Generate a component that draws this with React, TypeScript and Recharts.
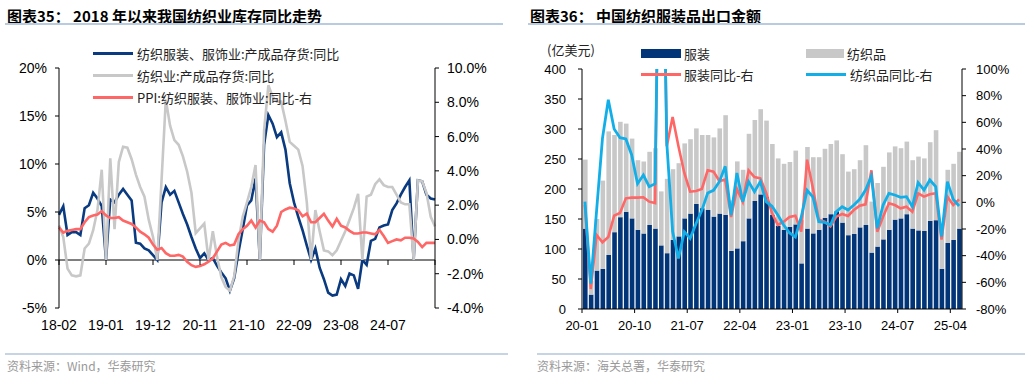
import React from "react";
import {
  ComposedChart,
  LineChart,
  Line,
  Bar,
  XAxis,
  YAxis,
  ReferenceLine,
} from "recharts";

const NUM_FONT = "'Liberation Sans', Arial, 'Noto Sans CJK SC', sans-serif";
const CJK_FONT = "'Noto Sans CJK SC', 'Liberation Sans', sans-serif";

function monthLabels(startY: number, startM: number, n: number) {
  const out: string[] = [];
  for (let i = 0; i < n; i++) {
    const t = startM - 1 + i;
    const y = startY + Math.floor(t / 12);
    const m = (t % 12) + 1;
    out.push(`${String(y).slice(2)}-${String(m).padStart(2, "0")}`);
  }
  return out;
}

// ---------- 图表35: 2018-02 .. 2025-06, January not published (shown as 0)
const invMonths = monthLabels(2018, 2, 89);

// 纺织服装、服饰业:产成品存货:同比 (%)
const apparelInv = [
  4.7, 5.6, 2.6, 2.9, 2.9, 2.6, 5.4, 5.7, 7.0, 6.4, 5.6,
  0, 6.3, 6.0, 6.8, 7.4, 6.8, 6.2, 1.8, 1.7, 1.2, 1.0,
  0.5, 0, 6.0, 7.6, 6.8, 7.2, 6.0, 4.8, 3.7, 2.4, 1.2,
  0.2, 0.7, 0, 0.2, -0.6, -1.3, -1.9, -3.2, -1.9, 0.8, 3.2,
  5.7, 6.2, 8.5, 0, 12.0, 15.1, 14.2, 12.8, 13.3, 11.5, 8.0,
  6.0, 4.5, 3.1, 1.5, 0, 1.2, -0.8, -2.0, -3.4, -3.7, -3.6,
  -2.0, -2.7, -1.4, -1.6, -3.0, 0, -0.5, 2.0, 2.2, 3.4, 3.6,
  3.7, 5.2, 5.9, 6.8, 7.6, 8.3, 0, 8.3, 8.2, 6.8, 6.4, 6.3,
];

// 纺织业:产成品存货:同比 (%)
const textileInv = [
  3.6, 2.4, -0.9, -1.6, -1.7, -1.6, 1.2, 1.7, 3.1, 5.2, 9.4,
  0, 10.6, 3.2, 10.2, 11.8, 11.7, 10.5, 8.9, 7.6, 6.6, 4.2,
  2.4, 0, 8.3, 16.7, 14.0, 12.5, 12.0, 10.8, 9.2, 7.0, 2.8,
  3.3, 3.8, 0, 3.0, 0.3, -1.8, -2.8, -3.2, -1.7, 2.0, 4.5,
  6.0, 7.6, 9.9, 0, 13.5, 18.2, 17.0, 16.5, 16.5, 14.5, 12.3,
  11.9, 11.5, 9.8, 6.0, 0, 5.2, 3.0, 1.0, 0.9, 0.5, 1.0,
  2.0, 3.0, 4.2, 5.4, 6.9, 0, 6.6, 6.8, 7.9, 8.4, 7.8,
  7.6, 7.6, 6.8, 6.0, 5.8, 5.8, 0, 8.3, 8.2, 7.0, 4.5, 3.5,
];

// PPI:纺织服装、服饰业:同比 (%, right axis)
const apparelPpi = [
  0.7, 0.4, 0.5, 0.55, 0.6, 0.6, 1.0, 1.3, 1.4, 1.45, 1.65,
  1.4, 1.25, 1.25, 1.3, 1.1, 1.0, 0.9, 0.7, 0.45, 0.3, 0.1,
  -0.3, -0.6, -0.5, -0.8, -0.95, -0.95, -0.9, -1.0, -1.3, -1.5, -1.6,
  -1.55, -1.45, -1.3, -1.1, -0.7, -0.3, -0.2, -0.35, -0.3, 0.3, 0.6,
  0.8, 1.1, 0.7, 1.1, 1.0, 0.6, 0.45, 0.8, 1.6, 1.75, 1.85,
  1.8, 1.7, 1.35, 1.5, 1.0, 1.0, 1.25, 1.5, 1.1, 0.75, 1.2,
  0.8, 0.7, 0.5, 0.35, 0.35, 0.4, 0.4, 0.35, 0.3, 0.55, 0.2,
  -0.2, -0.1, 0.0, -0.05, 0.1, 0.1, 0.05, -0.15, -0.45, -0.2, -0.2, -0.2,
];

const invLeftTicks = [-5, 0, 5, 10, 15, 20];
const invRightTicks = [-4, -2, 0, 2, 4, 6, 8, 10];

// ---------- 图表36: 2020-01 .. 2025-05
const expMonths = monthLabels(2020, 1, 65);

// 服装 (亿美元)
const apparelExp = [
  134, 24, 64, 67, 90, 128, 153, 162, 151, 132, 126, 140,
  134, 106, 93, 115, 121, 151, 159, 175, 168, 165, 154, 159,
  157, 97, 101, 113, 151, 180, 191, 187, 157, 139, 132, 137,
  141, 76, 134, 126, 132, 152, 158, 163, 144, 123, 125, 136,
  140, 94, 104, 116, 132, 149, 151, 158, 134, 131, 130, 147,
  148, 67, 110, 115, 134,
];

// 纺织品 (亿美元)
const textileExp = [
  115, 23, 86, 147, 206, 162, 159, 147, 133, 116, 120, 122,
  134, 90, 124, 118, 122, 125, 124, 126, 122, 125, 132, 142,
  166, 84, 145, 119, 141, 135, 142, 127, 118, 112, 110, 108,
  123, 72, 136, 127, 121, 115, 117, 118, 114, 106, 108, 112,
  133, 85, 106, 121, 129, 122, 117, 121, 114, 123, 121, 131,
  150, 62, 122, 127, 128,
];

// 服装同比 (%, right axis)
const apparelYoy = [
  -2, -65, -24.5, -30, -26, -10, -8, 3, 3.5, 3.5, 3.8, 0.5,
  -0.5, 340, 42, 64, 42, 22, 8, 8.5, 10, 24, 23, 16,
  17, -11, 10, 0.5, 24, 19, 18, 7, -8, -17, -14.5, -11,
  -10, -22, 32, 10.5, -13, -14.5, -18, -10.75, -8.75, -10.25, -5.75, -2.5,
  -1.5, 24, -22, -10.75, -0.75, -2, -4.5, -3.25, -7, 6.75, 4.25, 6,
  6.75, -28, 4.25, -2, 2.25,
];

// 纺织品同比 (%, right axis)
const textileYoy = [
  0.5, -61, -6, 48, 77, 55, 48.5, 47.5, 35.5, 14, 20.5, 11.75,
  14, 300, 45, -22, -42, -22, -27, -16, -6, 7, 9, 15.5,
  27, -9.5, 22, 0.5, 15.5, 8, 15.5, 0.5, -3, -9.5, -17, -23,
  -26, -11, 9, 4, -14.5, -15, -17, -7, -3.25, -5.75, -2, 2.25,
  9.25, 19.75, -19.5, -2, 6.75, 5.5, 3.75, 4.25, -3.25, 14.75, 9.25, 16.75,
  11.75, -25.75, 15.5, 2.25, -2.75,
];

const expLeftTicks = [0, 50, 100, 150, 200, 250, 300, 350, 400];
const expRightTicks = [-80, -60, -40, -20, 0, 20, 40, 60, 80, 100];

const invData = invMonths.map((m, i) => ({
  m,
  apparelInv: apparelInv[i],
  textileInv: textileInv[i],
  apparelPpi: apparelPpi[i],
}));

const expData = expMonths.map((m, i) => ({
  m,
  apparel: apparelExp[i],
  textile: textileExp[i],
  apparelYoy: apparelYoy[i],
  textileYoy: textileYoy[i],
}));

// colours
const NAVY = "#0a3a80";
const GREY = "#c8c8c8";
const SALMON = "#ff6666";
const SKY = "#12aee8";
const BAR_NAVY = "#023578";

// layout of the two charts (px inside their boxes)
const L = { w: 505, h: 340, top: 68, left: 59, right: 435, bottom: 308 };
const R = { w: 515, h: 340, top: 69, left: 67, right: 447, bottom: 309 };

const axisTickStyle = { fill: "#000", fontSize: 14, fontFamily: NUM_FONT };
const axisTickStyleR = { fill: "#000", fontSize: 13, fontFamily: NUM_FONT };

function InvTick(props: any) {
  const { x, y, payload } = props;
  // x axis crosses the left axis at 0
  const zeroY = L.top + (L.bottom - L.top) * (20 / 25);
  const last = payload.value === invMonths[invMonths.length - 1];
  return (
    <g>
      <line x1={x} x2={x} y1={zeroY} y2={zeroY + 5} stroke="#000" />
      {!last && (
        <text
          x={x}
          y={y + 17}
          dy="0.35em"
          textAnchor="middle"
          fontSize={14}
          fontFamily={NUM_FONT}
          fill="#000"
        >
          {payload.value}
        </text>
      )}
    </g>
  );
}

function ExpTick(props: any) {
  const { x, y, payload } = props;
  const band = (R.right - R.left) / expMonths.length;
  const tx = x - band / 2;
  return (
    <g>
      <line x1={tx} x2={tx} y1={y} y2={y + 4} stroke="#000" />
      <text
        x={tx}
        y={y + 16}
        dy="0.35em"
        textAnchor="middle"
        fontSize={13}
        fontFamily={NUM_FONT}
        fill="#000"
      >
        {payload.value}
      </text>
    </g>
  );
}

function LineKey({
  x,
  y,
  w,
  color,
  text,
  gap = 4,
}: {
  x: number;
  y: number;
  w: number;
  color: string;
  text: string;
  gap?: number;
}) {
  return (
    <div
      style={{
        position: "absolute",
        left: x,
        top: y - 10,
        height: 20,
        display: "flex",
        alignItems: "center",
        whiteSpace: "nowrap",
      }}
    >
      <span style={{ display: "inline-block", width: w, height: 3, background: color }} />
      <span style={{ marginLeft: gap, fontSize: 13, fontFamily: CJK_FONT, color: "#222" }}>
        {text}
      </span>
    </div>
  );
}

function BoxKey({
  x,
  y,
  w,
  color,
  text,
}: {
  x: number;
  y: number;
  w: number;
  color: string;
  text: string;
}) {
  return (
    <div
      style={{
        position: "absolute",
        left: x,
        top: y - 10,
        height: 20,
        display: "flex",
        alignItems: "center",
        whiteSpace: "nowrap",
      }}
    >
      <span style={{ display: "inline-block", width: w, height: 9, background: color }} />
      <span style={{ marginLeft: 3, fontSize: 13, fontFamily: CJK_FONT, color: "#222" }}>
        {text}
      </span>
    </div>
  );
}

const titleStyle: React.CSSProperties = {
  position: "absolute",
  top: 5,
  fontSize: 15,
  fontWeight: 700,
  fontFamily: CJK_FONT,
  color: "#000",
  whiteSpace: "nowrap",
};

const sourceStyle: React.CSSProperties = {
  position: "absolute",
  top: 357,
  fontSize: 12,
  fontFamily: CJK_FONT,
  color: "#999",
  whiteSpace: "nowrap",
};

export default function App() {
  return (
    <div
      style={{
        position: "relative",
        width: 1030,
        height: 378,
        background: "#fff",
        overflow: "hidden",
      }}
    >
      <style>{`body{margin:0;}`}</style>

      {/* titles */}
      <div style={{ ...titleStyle, left: 7 }}>图表35： 2018 年以来我国纺织业库存同比走势</div>
      <div style={{ ...titleStyle, left: 530 }}>图表36： 中国纺织服装品出口金额</div>
      <div style={{ position: "absolute", left: 5, top: 23, width: 498, height: 2, background: "#b9cbe0" }} />
      <div style={{ position: "absolute", left: 528, top: 23, width: 497, height: 2, background: "#b9cbe0" }} />

      {/* left chart */}
      <div style={{ position: "absolute", left: 0, top: 0 }}>
        <LineChart
          width={L.w}
          height={L.h}
          data={invData}
          margin={{ top: L.top, right: 0, bottom: 0, left: 0 }}
        >
          <XAxis
            dataKey="m"
            interval={10}
            height={L.h - L.bottom}
            axisLine={false}
            tickLine={false}
            tickSize={0}
            tickMargin={0}
            tick={InvTick}
          />
          <YAxis
            yAxisId="left"
            width={L.left}
            domain={[-5, 20]}
            ticks={invLeftTicks}
            tickFormatter={(v: number) => `${v}%`}
            axisLine={{ stroke: "#000" }}
            tickLine={{ stroke: "#000" }}
            tickSize={4}
            tickMargin={8}
            tick={axisTickStyle}
          />
          <YAxis
            yAxisId="right"
            orientation="right"
            width={L.w - L.right}
            domain={[-4, 10]}
            ticks={invRightTicks}
            tickFormatter={(v: number) => `${v.toFixed(1)}%`}
            axisLine={{ stroke: "#000" }}
            tickLine={{ stroke: "#000" }}
            tickSize={4}
            tickMargin={8}
            tick={axisTickStyle}
          />
          <ReferenceLine yAxisId="left" y={0} stroke="#000" strokeWidth={1} />
          <Line
            yAxisId="left"
            dataKey="apparelInv"
            stroke={NAVY}
            strokeWidth={2.6}
            dot={false}
            isAnimationActive={false}
          />
          <Line
            yAxisId="left"
            dataKey="textileInv"
            stroke={GREY}
            strokeWidth={2.6}
            dot={false}
            isAnimationActive={false}
          />
          <Line
            yAxisId="right"
            dataKey="apparelPpi"
            stroke={SALMON}
            strokeWidth={2.6}
            dot={false}
            isAnimationActive={false}
          />
        </LineChart>
      </div>

      <LineKey x={93} y={53.5} w={40} color={NAVY} text="纺织服装、服饰业:产成品存货:同比" />
      <LineKey x={93} y={75} w={40} color={GREY} text="纺织业:产成品存货:同比" />
      <LineKey x={93} y={97} w={40} color={SALMON} text="PPI:纺织服装、服饰业:同比-右" />

      {/* right chart */}
      <div style={{ position: "absolute", left: 515, top: 0 }}>
        <ComposedChart
          width={R.w}
          height={R.h}
          data={expData}
          margin={{ top: R.top, right: 0, bottom: 0, left: 0 }}
          barSize={4.6}
        >
          <XAxis
            dataKey="m"
            interval={8}
            height={R.h - R.bottom}
            axisLine={{ stroke: "#000" }}
            tickLine={false}
            tickSize={0}
            tickMargin={0}
            tick={ExpTick}
          />
          <YAxis
            yAxisId="left"
            width={R.left}
            domain={[0, 400]}
            ticks={expLeftTicks}
            axisLine={{ stroke: "#000" }}
            tickLine={{ stroke: "#000" }}
            tickSize={4}
            tickMargin={12}
            tick={axisTickStyleR}
          />
          <YAxis
            yAxisId="right"
            orientation="right"
            width={R.w - R.right}
            domain={[-80, 100]}
            ticks={expRightTicks}
            allowDataOverflow
            tickFormatter={(v: number) => `${v}%`}
            axisLine={{ stroke: "#000" }}
            tickLine={{ stroke: "#000" }}
            tickSize={4}
            tickMargin={10}
            tick={axisTickStyleR}
          />
          <Bar yAxisId="left" dataKey="apparel" stackId="exp" fill={BAR_NAVY} isAnimationActive={false} />
          <Bar yAxisId="left" dataKey="textile" stackId="exp" fill={GREY} isAnimationActive={false} />
          <Line
            yAxisId="right"
            dataKey="apparelYoy"
            stroke={SALMON}
            strokeWidth={2.6}
            dot={false}
            isAnimationActive={false}
          />
          <Line
            yAxisId="right"
            dataKey="textileYoy"
            stroke={SKY}
            strokeWidth={2.8}
            dot={false}
            isAnimationActive={false}
          />
        </ComposedChart>
      </div>

      <div
        style={{
          position: "absolute",
          left: 547,
          top: 40,
          fontSize: 13,
          fontFamily: CJK_FONT,
          color: "#222",
        }}
      >
        (亿美元)
      </div>
      <BoxKey x={641} y={53.5} w={40} color={BAR_NAVY} text="服装" />
      <BoxKey x={806} y={53.5} w={38} color={GREY} text="纺织品" />
      <LineKey x={641} y={74} w={40} color={SALMON} text="服装同比-右" gap={3} />
      <LineKey x={806} y={74} w={40} color={SKY} text="纺织品同比-右" gap={4} />

      {/* footers */}
      <div style={{ position: "absolute", left: 5, top: 353, width: 503, height: 2, background: "#c7d4e3" }} />
      <div style={{ position: "absolute", left: 537, top: 353, width: 488, height: 2, background: "#c7d4e3" }} />
      <div style={{ ...sourceStyle, left: 7 }}>资料来源：Wind，华泰研究</div>
      <div style={{ ...sourceStyle, left: 537 }}>资料来源：海关总署，华泰研究</div>
    </div>
  );
}
